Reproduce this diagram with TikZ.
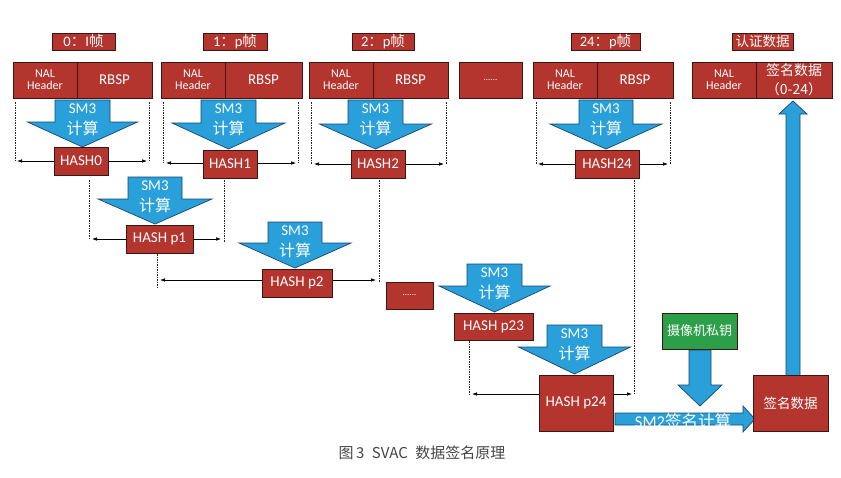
\documentclass[tikz,border=0pt]{standalone}
\usepackage{fontspec}
\setmainfont{Carlito}
\newfontfamily\cjk{Noto Sans CJK SC}
\usetikzlibrary{arrows.meta}
\definecolor{boxred}{RGB}{180,52,46}
\definecolor{boxedge}{RGB}{60,22,18}
\definecolor{arrblue}{RGB}{41,160,218}
\definecolor{arredge}{RGB}{25,70,110}
\definecolor{boxgreen}{RGB}{44,160,72}
\definecolor{capgray}{RGB}{70,70,70}
\tikzset{
 rbox/.style={fill=boxred, draw=boxedge, line width=0.6pt, text=white, inner sep=0pt, align=center},
 gbox/.style={rbox, fill=boxgreen},
 barrow/.style={fill=arrblue, draw=arredge, line width=0.7pt, line join=miter},
 atext/.style={text=white, inner sep=0pt, font=\fontsize{15}{15}\selectfont},
 guide/.style={draw=black!85, line width=0.5pt, dash pattern=on 1.5pt off 1pt},
 span/.style={draw=black, line width=0.7pt, {Latex[length=5pt,width=3.6pt]}-{Latex[length=5pt,width=3.6pt]}},
 lbl/.style={rbox, minimum height=17pt, font=\fontsize{14.5}{15}\selectfont},
 nal/.style={rbox, minimum height=36pt, minimum width=64pt, font=\fontsize{12}{12}\selectfont},
 rbsp/.style={rbox, minimum height=36pt, font=\fontsize{15}{15}\selectfont},
 hbox/.style={rbox, minimum height=28pt, font=\fontsize{15}{15}\selectfont},
}
\newcommand\dnarrow[7]{%
 \path[barrow] ({#2-#6},#3) -- ({#2+#6},#3) -- ({#2+#6},#4) -- ({#2+#7},#4) -- (#2,#5) -- ({#2-#7},#4) -- ({#2-#6},#4) -- cycle;
 \node[atext] (#1a) at (#2,{#3+9}) {SM3};
 \node[atext] (#1b) at (#2,{#3+28}) {\cjk\fontsize{16}{16}\selectfont 计算};
}
\begin{document}
\begin{tikzpicture}[x=1pt,y=-1pt]
\useasboundingbox (0,0) rectangle (841,477);
\fill[white] (0,0) rectangle (841,477);

% top labels
\node[lbl, minimum width=63pt] (l0) at (83.5,41.5) {0{\cjk ：}I{\cjk 帧}};
\node[lbl, minimum width=64pt] (l1) at (235,41.5) {1{\cjk ：}p{\cjk 帧}};
\node[lbl, minimum width=62pt] (l2) at (383,41.5) {2{\cjk ：}p{\cjk 帧}};
\node[lbl, minimum width=69pt] (l24) at (605.5,41.5) {24{\cjk ：}p{\cjk 帧}};
\node[lbl, minimum width=61pt] (la) at (762.5,41.5) {\cjk\fontsize{13.5}{14}\selectfont 认证数据};

% NAL rows
\node[nal] (n0) at (45,80) {NAL\\Header};
\node[rbsp, minimum width=75pt] (r0) at (114.5,80) {RBSP};
\node[nal] (n1) at (193,80) {NAL\\Header};
\node[rbsp, minimum width=77pt] (r1) at (263.5,80) {RBSP};
\node[nal] (n2) at (341,80) {NAL\\Header};
\node[rbsp, minimum width=75pt] (r2) at (410.5,80) {RBSP};
\node[rbsp, minimum width=63pt, font=\fontsize{9}{9}\selectfont] (nd) at (490.5,80) {......};
\node[nal] (n24) at (565,80) {NAL\\Header};
\node[rbsp, minimum width=76pt] (r24) at (635,80) {RBSP};
\node[nal] (na) at (724,80) {NAL\\Header};
\node[rbsp, minimum width=76pt, font=\cjk\fontsize{14}{19}\selectfont] (ra) at (794,80) {签名数据\\（0-24）};

% guides and spans
\coordinate (g0a) at (15,102); \coordinate (g0b) at (15,161);
\coordinate (g0c) at (149,102); \coordinate (g0d) at (149,161);
\draw[guide] (g0a) -- (g0b); \draw[guide] (g0c) -- (g0d);
\coordinate (s0a) at (17,161); \coordinate (s0b) at (147,161);
\draw[span] (s0a) -- (s0b);

\coordinate (g1a) at (163,102); \coordinate (g1b) at (163,163);
\coordinate (g1c) at (298,102); \coordinate (g1d) at (298,163);
\draw[guide] (g1a) -- (g1b); \draw[guide] (g1c) -- (g1d);
\coordinate (s1a) at (166,163); \coordinate (s1b) at (296,163);
\draw[span] (s1a) -- (s1b);

\coordinate (g2a) at (311,102); \coordinate (g2b) at (311,164);
\coordinate (g2c) at (446,102); \coordinate (g2d) at (446,164);
\draw[guide] (g2a) -- (g2b); \draw[guide] (g2c) -- (g2d);
\coordinate (s2a) at (314,164); \coordinate (s2b) at (444,164);
\draw[span] (s2a) -- (s2b);

\coordinate (g3a) at (536,102); \coordinate (g3b) at (536,164);
\coordinate (g3c) at (670,102); \coordinate (g3d) at (670,164);
\draw[guide] (g3a) -- (g3b); \draw[guide] (g3c) -- (g3d);
\coordinate (s3a) at (538,164); \coordinate (s3b) at (668,164);
\draw[span] (s3a) -- (s3b);

\coordinate (g4a) at (89,180); \coordinate (g4b) at (89,239);
\coordinate (g4c) at (224,180); \coordinate (g4d) at (224,242);
\draw[guide] (g4a) -- (g4b); \draw[guide] (g4c) -- (g4d);
\coordinate (s4a) at (92,239); \coordinate (s4b) at (221,239);
\draw[span] (s4a) -- (s4b);

\coordinate (g5a) at (157,254); \coordinate (g5b) at (157,288);
\coordinate (g5c) at (379,180); \coordinate (g5d) at (379,282);
\draw[guide] (g5a) -- (g5b); \draw[guide] (g5c) -- (g5d);
\coordinate (s5a) at (160,280); \coordinate (s5b) at (376,280);
\draw[span] (s5a) -- (s5b);

\coordinate (g6a) at (469,341); \coordinate (g6b) at (469,394);
\coordinate (g6c) at (634,180); \coordinate (g6d) at (634,394);
\draw[guide] (g6a) -- (g6b); \draw[guide] (g6c) -- (g6d);
\coordinate (s6a) at (472,394); \coordinate (s6b) at (632,394);
\draw[span] (s6a) -- (s6b);

% SM3 arrows
\dnarrow{f0}{82.5}{100}{122}{147}{27.5}{55}
\dnarrow{f1}{228.5}{100}{123}{149}{27.5}{56.5}
\dnarrow{f2}{375.5}{100}{124}{149}{27.5}{56}
\dnarrow{f24}{606}{100}{124}{149}{27}{56}
\dnarrow{p1}{155}{177}{199}{224}{27}{57}
\dnarrow{p2}{295}{222}{243}{268}{27}{56}
\dnarrow{p23}{494.5}{264}{286}{312}{27.5}{55.5}
\dnarrow{p24}{574.5}{325}{347}{374}{27.5}{56}

% key arrow, SM2 arrow, up arrow
\path[barrow] (689,350) -- (711,350) -- (711,385) -- (722,385) -- (700,406) -- (678,385) -- (689,385) -- cycle;
\path[barrow] (615,413) -- (743,413) -- (743,406) -- (755,419) -- (743,432) -- (743,425) -- (615,425) -- cycle;
\path[barrow] (786,376) -- (786,114) -- (779,114) -- (793,101) -- (807,114) -- (800,114) -- (800,376) -- cycle;

% hash boxes
\node[hbox, minimum width=54pt] (h0) at (81,161) {HASH0};
\node[hbox, minimum width=54pt] (h1) at (230,164) {HASH1};
\node[hbox, minimum width=54pt] (h2) at (378,164) {HASH2};
\node[hbox, minimum width=64pt] (h24) at (607,164) {HASH24};
\node[hbox, minimum width=67pt] (hp1) at (159.5,239) {HASH p1};
\node[hbox, minimum width=70pt] (hp2) at (297,283) {HASH p2};
\node[hbox, minimum width=47pt, minimum height=27pt, font=\fontsize{9}{9}\selectfont] (hd) at (409.5,295.5) {......};
\node[hbox, minimum width=79pt, minimum height=27pt] (hp23) at (493.5,326.5) {HASH p23};
\node[hbox, minimum width=74pt, minimum height=56pt] (hp24) at (576,403) {HASH p24};
\node[rbox, minimum width=75pt, minimum height=56pt, font=\cjk\fontsize{13.5}{14}\selectfont] (sig) at (790.5,403) {签名数据};
\node[gbox, minimum width=75pt, minimum height=36pt, font=\cjk\fontsize{13}{14}\selectfont] (key) at (699.5,331) {摄像机私钥};

\node[text=white, inner sep=0pt, font=\fontsize{16.5}{17}\selectfont] (sm2) at (683,421) {SM2{\cjk 签名计算}};

% caption
\node[text=capgray, inner sep=0pt, font=\cjk\fontsize{15}{15}\selectfont] (cap) at (422,453) {图\,3\enspace SVAC\enspace 数据签名原理};
\end{tikzpicture}
\end{document}
